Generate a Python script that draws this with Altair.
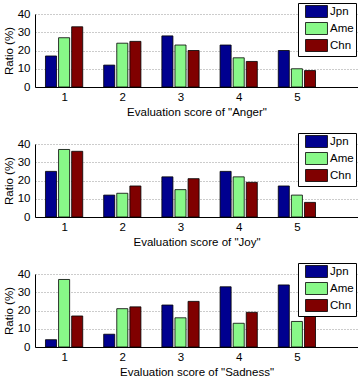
import altair as alt
import pandas as pd

scores = [1, 2, 3, 4, 5]
countries = ["Jpn", "Ame", "Chn"]
colors = ["#00008F", "#88F888", "#800000"]
emotions = ["Anger", "Joy", "Sadness"]

anger_jpn = [17, 12, 28, 23, 20]
anger_ame = [27, 24, 23, 16, 10]
anger_chn = [33, 25, 20, 14, 9]

joy_jpn = [25, 12, 22, 25, 17]
joy_ame = [37, 13, 15, 22, 12]
joy_chn = [36, 17, 21, 19, 8]

sad_jpn = [4, 7, 23, 33, 34]
sad_ame = [37, 21, 16, 13, 14]
sad_chn = [17, 22, 25, 19, 17]

values = {
    "Anger": [anger_jpn, anger_ame, anger_chn],
    "Joy": [joy_jpn, joy_ame, joy_chn],
    "Sadness": [sad_jpn, sad_ame, sad_chn],
}

FONT = "Liberation Sans"


def panel(emotion):
    rows = []
    for c, series in zip(countries, values[emotion]):
        for s, v in zip(scores, series):
            rows.append({"score": s, "country": c, "ratio": v})
    df = pd.DataFrame(rows)
    return (
        alt.Chart(df)
        .transform_calculate(
            xc="datum.score + (indexof(['Jpn','Ame','Chn'], datum.country) - 1) * 0.225"
        )
        .transform_calculate(x0="datum.xc - 0.095", x1="datum.xc + 0.095")
        .mark_rect(stroke="black", strokeWidth=0.8)
        .encode(
            x=alt.X(
                "x0:Q",
                scale=alt.Scale(domain=[0.5, 6.05], nice=False, zero=False),
                axis=alt.Axis(
                    values=scores,
                    format="d",
                    title=f'Evaluation score of "{emotion}"',
                    grid=False,
                    ticks=False,
                    labelPadding=4,
                    titlePadding=4,
                ),
            ),
            x2="x1:Q",
            y=alt.Y(
                "ratio:Q",
                scale=alt.Scale(domain=[0, 40], nice=False),
                axis=alt.Axis(
                    values=[0, 10, 20, 30, 40],
                    title="Ratio (%)",
                    grid=True,
                    gridDash=[1, 2],
                    gridColor="#999999",
                    ticks=False,
                    labelPadding=5,
                    titlePadding=3,
                ),
            ),
            y2=alt.datum(0),
            color=alt.Color(
                "country:N",
                scale=alt.Scale(domain=countries, range=colors),
                legend=alt.Legend(
                    title=None,
                    orient="none",
                    legendX=263,
                    legendY=-11,
                    strokeColor="black",
                    fillColor="white",
                    padding=2,
                    rowPadding=0,
                    symbolType="M-1.83,-1L1.83,-1L1.83,1L-1.83,1Z",
                    symbolSize=144,
                    symbolStrokeColor="black",
                    symbolStrokeWidth=0.8,
                    symbolOffset=10,
                    labelOffset=7,
                    labelFontSize=11.5,
                    labelFont=FONT,
                    labelColor="black",
                ),
            ),
        )
        .properties(width=323, height=73)
    )


chart = (
    alt.vconcat(*[panel(e) for e in emotions], spacing=14)
    .resolve_legend(color="independent")
    .properties(padding={"left": 3, "top": 2, "right": 0, "bottom": 0})
    .configure_view(stroke=None)
    .configure_axis(
        labelFont=FONT,
        titleFont=FONT,
        labelFontSize=11.5,
        titleFontSize=11.5,
        labelColor="black",
        titleColor="black",
        titleFontWeight="normal",
        domainColor="black",
        domainWidth=1,
    )
)

chart.save("out.html", embed_options={"renderer": "svg", "actions": False})
